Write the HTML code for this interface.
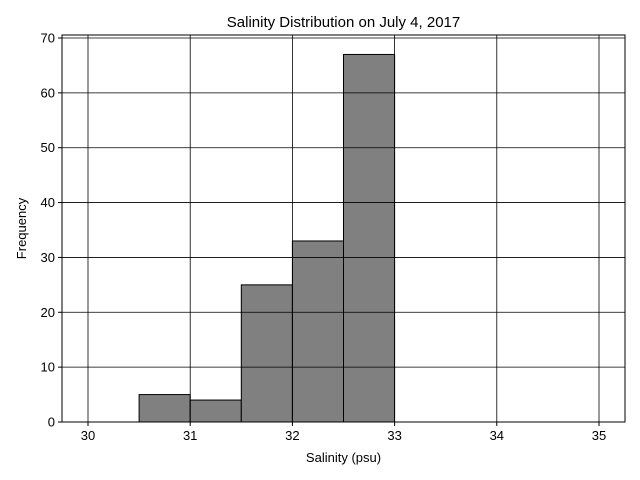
<!DOCTYPE html>
<html><head><meta charset="utf-8">
<style>
body{margin:0;background:#fff;}
svg{display:block;font-family:"Liberation Sans","DejaVu Sans",sans-serif;}
</style></head>
<body>
<svg id="chart" width="640" height="480"></svg>
<script>
const binStarts = [30.5, 31, 31.5, 32, 32.5];
const binWidth = 0.5;
const counts = [5, 4, 25, 33, 67];
const xTicks = [30, 31, 32, 33, 34, 35];
const yTicks = [0, 10, 20, 30, 40, 50, 60, 70];

const L = 62, R = 625, T = 35, B = 422;
const x = v => 88 + (v - 30) * (599 - 88) / 5;
const y = v => 422 - v * (422 - 38) / 70;
const svg = document.getElementById('chart');
const NS = 'http://www.w3.org/2000/svg';
function mk(tag, attrs, parent) {
  const e = document.createElementNS(NS, tag);
  for (const k in attrs) e.setAttribute(k, attrs[k]);
  (parent || svg).appendChild(e);
  return e;
}
const bars = mk('g', {});


binStarts.forEach((s, i) => {
  const r = mk('rect', {x: x(s), y: y(counts[i]), width: x(s + binWidth) - x(s), height: y(0) - y(counts[i]), fill: '#808080', stroke: '#000', 'stroke-width': 1}, bars);
  
  
});
const grid = mk('g', {stroke: '#000', 'stroke-width': 0.8});


xTicks.forEach(t => mk('line', {x1: x(t), x2: x(t), y1: T, y2: B}, grid));
yTicks.forEach(t => mk('line', {x1: L, x2: R, y1: y(t), y2: y(t)}, grid));
const frame = mk('rect', {x: L, y: T, width: R - L, height: B - T, fill: 'none', stroke: '#000', 'stroke-width': 1});


xTicks.forEach(t => {
  mk('line', {x1: x(t), x2: x(t), y1: B, y2: B + 4, stroke: '#000'});
  const tx = mk('text', {x: x(t), y: B + 18, 'text-anchor': 'middle', 'font-size': 13});
  tx.textContent = t;
  
  
});
yTicks.forEach(t => {
  mk('line', {x1: L - 4, x2: L, y1: y(t), y2: y(t), stroke: '#000'});
  const tx = mk('text', {x: L - 7, y: y(t) + 4.5, 'text-anchor': 'end', 'font-size': 13});
  tx.textContent = t;
  
  
});
const title = mk('text', {x: (L + R) / 2 + 0, y: 27, 'text-anchor': 'middle', 'font-size': 15});
title.textContent = 'Salinity Distribution on July 4, 2017';


const xl = mk('text', {x: (L + R) / 2, y: 462, 'text-anchor': 'middle', 'font-size': 13});
xl.textContent = 'Salinity (psu)';


const yl = mk('text', {x: 26, y: (T + B) / 2, 'text-anchor': 'middle', 'font-size': 13, transform: 'rotate(-90 26 ' + (T + B) / 2 + ')'});
yl.textContent = 'Frequency';


</script>
</body></html>
